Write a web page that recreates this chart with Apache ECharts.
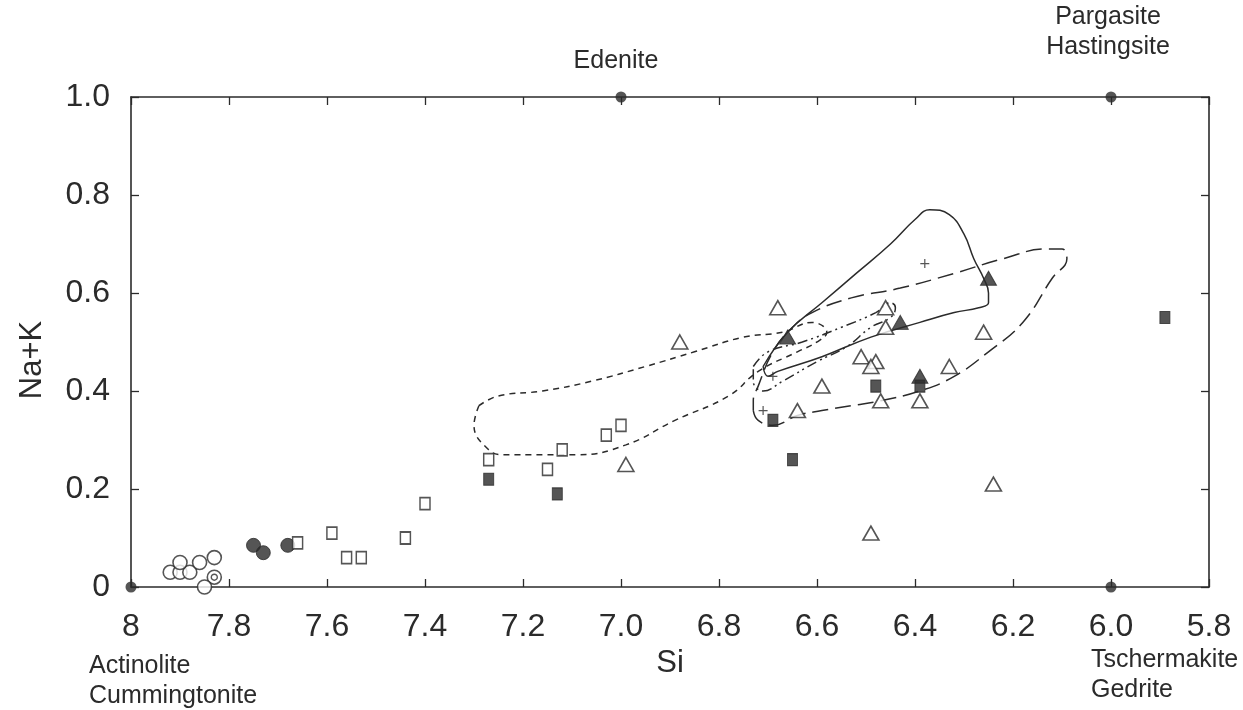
<!DOCTYPE html>
<html><head><meta charset="utf-8">
<script src="https://cdn.jsdelivr.net/npm/echarts/dist/echarts.min.js"></script>
<style>html,body{margin:0;padding:0;background:#fff}#c{width:1243px;height:710px}</style>
</head><body><div id="c"></div>
<script>
// ---- tick labels ----
const xTickValues = [8, 7.8, 7.6, 7.4, 7.2, 7.0, 6.8, 6.6, 6.4, 6.2, 6.0, 5.8];
const xTickLabels = ['8', '7.8', '7.6', '7.4', '7.2', '7.0', '6.8', '6.6', '6.4', '6.2', '6.0', '5.8'];
const yTickValues = [0, 0.2, 0.4, 0.6, 0.8, 1.0];
const yTickLabels = ['0', '0.2', '0.4', '0.6', '0.8', '1.0'];

// ---- end members [Si, Na+K] ----
const endMembers = [[8, 0], [7, 1], [6, 1], [6, 0]];
const endMemberNames = ['Actinolite\nCummingtonite', 'Edenite', 'Pargasite\nHastingsite', 'Tschermakite\nGedrite'];

// ---- analyses [Si, Na+K] ----
const openCircles = [[7.92, 0.03], [7.90, 0.03], [7.88, 0.03], [7.90, 0.05], [7.86, 0.05], [7.83, 0.06], [7.83, 0.02], [7.85, 0.0]];
const dottedCircleCentres = [[7.83, 0.02]];
const filledCircles = [[7.75, 0.085], [7.73, 0.07], [7.68, 0.085]];
const openSquares = [[7.66, 0.09], [7.59, 0.11], [7.56, 0.06], [7.53, 0.06], [7.44, 0.10], [7.40, 0.17], [7.27, 0.26], [7.15, 0.24], [7.12, 0.28], [7.03, 0.31], [7.00, 0.33]];
const filledSquares = [[7.27, 0.22], [7.13, 0.19], [6.69, 0.34], [6.65, 0.26], [6.48, 0.41], [6.39, 0.41], [5.89, 0.55]];
const openTriangles = [[6.88, 0.50], [6.99, 0.25], [6.68, 0.57], [6.46, 0.57], [6.46, 0.53], [6.51, 0.47], [6.48, 0.46], [6.49, 0.45], [6.59, 0.41], [6.47, 0.38], [6.39, 0.38], [6.33, 0.45], [6.26, 0.52], [6.64, 0.36], [6.49, 0.11], [6.24, 0.21]];
const filledTriangles = [[6.66, 0.51], [6.43, 0.54], [6.39, 0.43], [6.25, 0.63]];
const crosses = [[6.38, 0.66], [6.69, 0.43], [6.71, 0.36]];

// ---- field outlines [Si, Na+K] ----
const fieldShortDash = [[7.29, 0.37], [7.25, 0.39], [7.16, 0.40], [7.06, 0.42], [6.95, 0.45], [6.85, 0.48], [6.75, 0.51], [6.67, 0.52], [6.61, 0.54], [6.58, 0.52], [6.60, 0.50], [6.64, 0.48], [6.72, 0.44], [6.78, 0.39], [6.89, 0.34], [6.99, 0.29], [7.09, 0.27], [7.16, 0.27], [7.24, 0.27], [7.27, 0.28], [7.30, 0.33], [7.29, 0.37]];
const fieldSolid = [[6.71, 0.45], [6.66, 0.52], [6.59, 0.58], [6.52, 0.64], [6.45, 0.70], [6.40, 0.75], [6.37, 0.77], [6.33, 0.76], [6.30, 0.72], [6.28, 0.67], [6.26, 0.63], [6.25, 0.60], [6.25, 0.58], [6.27, 0.57], [6.32, 0.56], [6.39, 0.54], [6.49, 0.51], [6.59, 0.47], [6.68, 0.44], [6.70, 0.43], [6.71, 0.45]];
const fieldLongDash = [[6.73, 0.36], [6.72, 0.34], [6.69, 0.33], [6.64, 0.35], [6.59, 0.36], [6.53, 0.37], [6.47, 0.38], [6.39, 0.40], [6.32, 0.43], [6.25, 0.48], [6.18, 0.54], [6.12, 0.63], [6.09, 0.67], [6.10, 0.69], [6.13, 0.69], [6.22, 0.67], [6.32, 0.64], [6.43, 0.61], [6.53, 0.59], [6.61, 0.56], [6.65, 0.53], [6.69, 0.48], [6.72, 0.41], [6.73, 0.38], [6.73, 0.36]];
const fieldDashDot = [[6.73, 0.45], [6.70, 0.48], [6.63, 0.50], [6.55, 0.53], [6.48, 0.56], [6.45, 0.58], [6.44, 0.57], [6.45, 0.55], [6.49, 0.53], [6.54, 0.49], [6.60, 0.46], [6.67, 0.42], [6.71, 0.40], [6.73, 0.42], [6.73, 0.45]];

const INK = '#2b2b2b';
const FONT = '"Liberation Sans", Arial, sans-serif';

function fmt(labels, values) {
  return function (v) {
    for (let i = 0; i < values.length; i++) if (Math.abs(values[i] - v) < 1e-6) return labels[i];
    return '';
  };
}

function pts(name, data, symbol, size, filled) {
  return {
    name: name, type: 'scatter', data: data, symbol: symbol, symbolSize: size, z: 5,
    itemStyle: filled ? { color: INK, borderColor: INK, borderWidth: 1 } : { color: '#fff', borderColor: INK, borderWidth: 1.6 }
  };
}
function outline(name, data, type) {
  return {
    name: name, type: 'line', data: data, smooth: 0.45, showSymbol: false, symbol: 'none', z: 3,
    lineStyle: { color: INK, width: 1.5, type: type }
  };
}

const frameLine = { show: true, onZero: false, lineStyle: { color: INK, width: 1.6 } };
const frameTick = { show: true, inside: true, length: 8, lineStyle: { color: INK, width: 1.3 } };

const chart = echarts.init(document.getElementById('c'), null, { renderer: 'canvas' });
chart.setOption({
  backgroundColor: '#fff',
  animation: false,
  grid: { left: 131, right: 34, top: 97, bottom: 123 },
  xAxis: [{
    type: 'value', inverse: true, min: 5.8, max: 8, interval: 0.2, position: 'bottom',
    axisLine: frameLine, axisTick: frameTick, splitLine: { show: false },
    axisLabel: { formatter: fmt(xTickLabels, xTickValues), fontSize: 32, color: INK, fontFamily: FONT, margin: 24, showMinLabel: true, showMaxLabel: true },
    name: 'Si', nameLocation: 'middle', nameGap: 60, nameTextStyle: { fontSize: 31, color: INK, fontFamily: FONT }
  }, {
    type: 'value', inverse: true, min: 5.8, max: 8, interval: 0.2, position: 'top',
    axisLine: frameLine, axisTick: frameTick,
    axisLabel: { show: false }, splitLine: { show: false }
  }],
  yAxis: [{
    type: 'value', min: 0, max: 1.0, interval: 0.2, position: 'left',
    axisLine: frameLine, axisTick: frameTick, splitLine: { show: false },
    axisLabel: { formatter: fmt(yTickLabels, yTickValues), fontSize: 32, color: INK, fontFamily: FONT, margin: 21 }
  }, {
    type: 'value', min: 0, max: 1.0, interval: 0.2, position: 'right',
    axisLine: frameLine, axisTick: frameTick,
    axisLabel: { show: false }, splitLine: { show: false }
  }],
  series: [
    outline('short dash field', fieldShortDash, [6, 5]),
    outline('solid field', fieldSolid, 'solid'),
    outline('long dash field', fieldLongDash, [16, 7]),
    outline('dash-dot field', fieldDashDot, [10, 4, 2, 4, 2, 4]),
    pts('open circles', openCircles, 'circle', 14, false),
    { name: 'dotted circle centre', type: 'scatter', data: dottedCircleCentres, symbol: 'circle', symbolSize: 6, z: 6,
      itemStyle: { color: '#fff', borderColor: INK, borderWidth: 1.4 } },
    pts('filled circles', filledCircles, 'circle', 14, true),
    pts('open squares', openSquares, 'rect', [10, 12], false),
    pts('filled squares', filledSquares, 'rect', [10, 12], true),
    pts('open triangles', openTriangles, 'triangle', [16, 14], false),
    pts('filled triangles', filledTriangles, 'triangle', [16, 14], true),
    { name: 'crosses', type: 'scatter', data: crosses, symbol: 'path://M0,5L10,5M5,0L5,10', symbolSize: 9, z: 5,
      itemStyle: { color: 'none', borderColor: INK, borderWidth: 1.2 } },
    { name: 'end members', type: 'scatter', data: endMembers, symbol: 'circle', symbolSize: 11, z: 7,
      itemStyle: { color: INK } }
  ]
});

// end-member labels placed relative to their points via the chart scale
function place(pt, dx, dy) {
  const p = chart.convertToPixel({ xAxisIndex: 0, yAxisIndex: 0 }, pt);
  return [p[0] + dx, p[1] + dy];
}
const pA = place(endMembers[0], -42, 94), pE = place(endMembers[1], -5, -36),
      pP = place(endMembers[2], -3, -65), pT = place(endMembers[3], -20, 88);
const ts = { fontSize: 25, fill: INK, fontFamily: FONT, lineHeight: 30 };
chart.setOption({
  graphic: [
    { type: 'text', x: pA[0], y: pA[1], style: Object.assign({ text: endMemberNames[0], align: 'left', verticalAlign: 'middle' }, ts) },
    { type: 'text', x: pE[0], y: pE[1], style: Object.assign({ text: endMemberNames[1], align: 'center', verticalAlign: 'middle' }, ts) },
    { type: 'text', x: pP[0], y: pP[1], style: Object.assign({ text: endMemberNames[2], align: 'center', verticalAlign: 'middle' }, ts) },
    { type: 'text', x: pT[0], y: pT[1], style: Object.assign({ text: endMemberNames[3], align: 'left', verticalAlign: 'middle' }, ts) },
    { type: 'text', x: 32, y: 360, rotation: Math.PI / 2, style: { text: 'Na+K', fontSize: 31, fill: INK, fontFamily: FONT, align: 'center', verticalAlign: 'middle' } }
  ]
});
</script>
</body></html>
